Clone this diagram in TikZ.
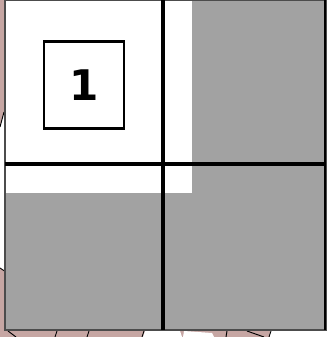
\documentclass[tikz,border=0pt]{standalone}
\usepackage{fontspec}
\newfontfamily\labelfont{DejaVu Sans}
\usepackage{tikz}
\usetikzlibrary{positioning, calc}

\definecolor{tilepink}{HTML}{C6A6A3}
\definecolor{cellgray}{HTML}{A2A2A2}

\begin{document}
\begin{tikzpicture}[x=0.03cm, y=-0.03cm, line join=miter]
				\useasboundingbox (0,0) rectangle (328,337);
				% tiles behind the grid
				\fill[tilepink] (0,0) -- (6,0) -- (6,337) -- (0,337) -- cycle;
				\fill[tilepink] (0,329) rectangle (270,337);
				\fill[white] (0,127) -- (4,112) -- (6,112) -- (6,272) -- (0,268) -- cycle;
				\fill[white] (145,331) -- (180,331) -- (182,337) -- (143,337) -- cycle;
				\fill[white] (184,331) -- (212,333) -- (214,337) -- (183,337) -- cycle;
				\draw[thick] (4,112) -- (0,127);
				\draw[thick] (6,272) -- (0,268);
				\draw[thick] (8,331) -- (16,337);
				\draw[thick] (57,331) -- (55,337);
				\draw[thick] (89,331) -- (87,337);
				\draw[thick] (144,331) -- (142,337);
				\draw[thick] (227,331) -- (226,337);
				\draw[thick] (247,331) -- (264,337);
				\draw[thick] (271,331) -- (269,337);
				
				% grid
				\fill[cellgray] (5,0) rectangle (326,330);
				\fill[white] (5,0) rectangle (192,193);
				\draw[draw=black!70, line width=1pt] (5,0.5) rectangle (326,330);
				\draw[line width=2pt] (325,0) -- (325,330);
				\draw[line width=2.6pt] (163,0) -- (163,330);
				\draw[line width=2.6pt] (5,164) -- (326,164);
				
				\node[draw, rectangle, line width=2.4pt, minimum width=2.4cm, minimum height=2.6cm, fill=white, font=\labelfont\bfseries\fontsize{36}{36}\selectfont] (one) at (84,85) {1};
			\end{tikzpicture}
\end{document}
